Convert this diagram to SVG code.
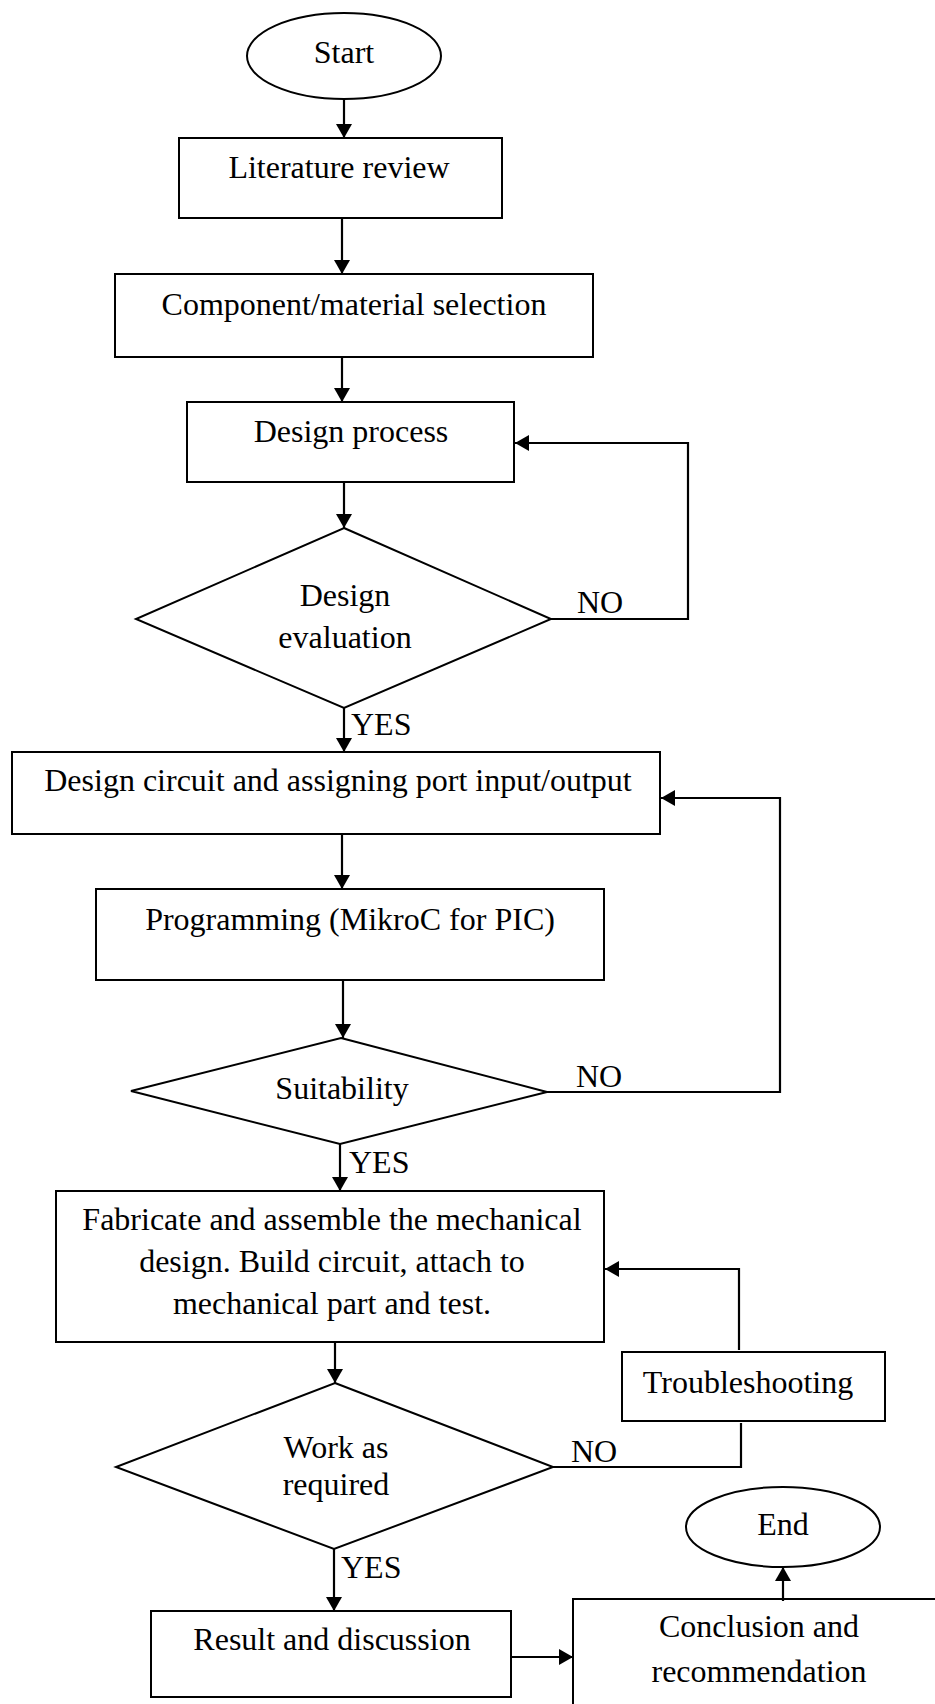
<svg xmlns="http://www.w3.org/2000/svg" width="935" height="1704" viewBox="0 0 935 1704">
<style>
.n{fill:#fff;stroke:#000;stroke-width:2}
.t{font-family:"Liberation Serif","Times New Roman",serif;font-size:32px;fill:#000;text-anchor:middle}
.l{font-family:"Liberation Serif","Times New Roman",serif;font-size:32px;fill:#000}
.c{fill:none;stroke:#000;stroke-width:2.2}
</style>
<defs>
<marker id="a" markerUnits="userSpaceOnUse" markerWidth="14" markerHeight="16" refX="14" refY="8" orient="auto" viewBox="0 0 14 16">
<path d="M0,0 L14,8 L0,16 z" fill="#000"/>
</marker>
</defs>
<rect width="935" height="1704" fill="#fff"/>
<g id="start"><ellipse class="n" cx="344" cy="56" rx="97" ry="43"/><text class="t" x="344" y="63">Start</text></g>
<g id="literature"><rect class="n" x="179" y="138" width="323" height="80"/><text class="t" x="339" y="178">Literature review</text></g>
<g id="component"><rect class="n" x="115" y="274" width="478" height="83"/><text class="t" x="354" y="315">Component/material selection</text></g>
<g id="designprocess"><rect class="n" x="187" y="402" width="327" height="80"/><text class="t" x="351" y="442">Design process</text></g>
<g id="designeval"><polygon class="n" points="344,528 551,619 344,708 136,619"/><text class="t" x="345" y="606">Design</text><text class="t" x="345" y="648">evaluation</text></g>
<g id="designcircuit"><rect class="n" x="12" y="752" width="648" height="82"/><text class="t" x="338" y="791">Design circuit and assigning port input/output</text></g>
<g id="programming"><rect class="n" x="96" y="889" width="508" height="91"/><text class="t" x="350" y="930">Programming (MikroC for PIC)</text></g>
<g id="suitability"><polygon class="n" points="341,1038 547,1092 340,1144 131,1091"/><text class="t" x="342" y="1099">Suitability</text></g>
<g id="fabricate"><rect class="n" x="56" y="1191" width="548" height="151"/><text class="t" x="332" y="1230">Fabricate and assemble the mechanical</text><text class="t" x="332" y="1272">design. Build circuit, attach to</text><text class="t" x="332" y="1314">mechanical part and test.</text></g>
<g id="troubleshooting"><rect class="n" x="622" y="1352" width="263" height="69"/><text class="t" x="748" y="1393">Troubleshooting</text></g>
<g id="work"><polygon class="n" points="335,1383 553,1467 334,1549 116,1467"/><text class="t" x="336" y="1458">Work as</text><text class="t" x="336" y="1495">required</text></g>
<g id="result"><rect class="n" x="151" y="1611" width="360" height="86"/><text class="t" x="332" y="1650">Result and discussion</text></g>
<g id="conclusion"><rect class="n" x="573" y="1599" width="380" height="120"/><text class="t" x="759" y="1637">Conclusion and</text><text class="t" x="759" y="1682">recommendation</text></g>
<g id="end"><ellipse class="n" cx="783" cy="1527" rx="97" ry="40"/><text class="t" x="783" y="1535">End</text></g>
<g id="connectors">
<path class="c" d="M344,99 L344,138" marker-end="url(#a)"/>
<path class="c" d="M342,218 L342,274" marker-end="url(#a)"/>
<path class="c" d="M342,357 L342,402" marker-end="url(#a)"/>
<path class="c" d="M344,482 L344,528" marker-end="url(#a)"/>
<path class="c" d="M551,619 L688,619 L688,443 L515,443" marker-end="url(#a)"/>
<path class="c" d="M344,708 L344,752" marker-end="url(#a)"/>
<path class="c" d="M342,834 L342,889" marker-end="url(#a)"/>
<path class="c" d="M343,980 L343,1038" marker-end="url(#a)"/>
<path class="c" d="M547,1092 L780,1092 L780,798 L661,798" marker-end="url(#a)"/>
<path class="c" d="M340,1144 L340,1191" marker-end="url(#a)"/>
<path class="c" d="M335,1342 L335,1383" marker-end="url(#a)"/>
<path class="c" d="M739,1350 L739,1269 L605,1269" marker-end="url(#a)"/>
<path class="c" d="M553,1467 L741,1467 L741,1423"/>
<path class="c" d="M334,1549 L334,1611" marker-end="url(#a)"/>
<path class="c" d="M511,1657 L573,1657" marker-end="url(#a)"/>
<path class="c" d="M783,1601 L783,1567" marker-end="url(#a)"/>
<text class="l" x="577" y="613">NO</text>
<text class="l" x="576" y="1087">NO</text>
<text class="l" x="571" y="1462">NO</text>
<text class="l" x="351" y="735">YES</text>
<text class="l" x="349" y="1173">YES</text>
<text class="l" x="341" y="1578">YES</text>
</g>
</svg>
